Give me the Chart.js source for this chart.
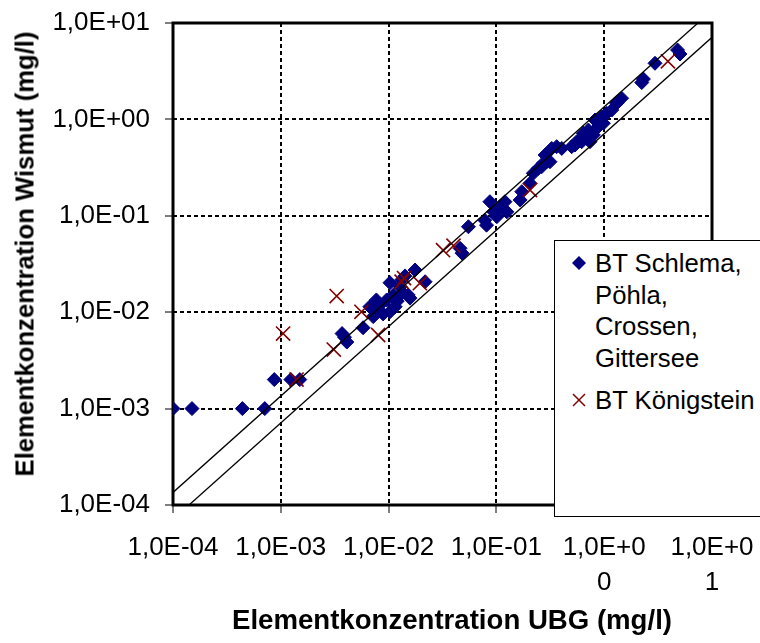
<!DOCTYPE html>
<html>
<head>
<meta charset="utf-8">
<script src="https://cdn.jsdelivr.net/npm/chart.js@4/dist/chart.umd.min.js"></script>
<style>
html,body{margin:0;padding:0;background:#fff;overflow:hidden;}
#wrap{position:relative;width:760px;height:643px;}
#legend{position:absolute;left:554px;top:240px;width:230px;height:277px;border:1px solid #000;background:#fff;box-sizing:border-box;font-family:'Liberation Sans',Arial,sans-serif;font-size:25.7px;line-height:31.7px;color:#000;}
#legend .txt{position:absolute;left:40px;white-space:nowrap;}
#legend svg{position:absolute;}
.atitle{position:absolute;white-space:nowrap;font-family:'Liberation Sans',Arial,sans-serif;font-weight:bold;color:#000;}
#ytitle{left:25px;top:254px;font-size:25.7px;line-height:31px;transform:translate(-50%,-50%) rotate(-90deg);}
#xtitle{left:452px;top:620px;font-size:27.6px;line-height:32px;transform:translate(-50%,-50%);}
</style>
</head>
<body>
<div id="wrap">
<canvas id="c" width="760" height="643"></canvas>
<div id="ytitle" class="atitle">Elementkonzentration Wismut (mg/l)</div>
<div id="xtitle" class="atitle">Elementkonzentration UBG (mg/l)</div>
<div id="legend">
  <svg style="left:17px;top:15px" width="14" height="14"><polygon points="7,0 14,7 7,14 0,7" fill="#000080"/></svg>
  <div class="txt" style="top:7px">BT Schlema,<br>Pöhla,<br>Crossen,<br>Gittersee</div>
  <svg style="left:17px;top:152px" width="14" height="14"><line x1="1" y1="1" x2="13" y2="13" stroke="#800000" stroke-width="1.5"/><line x1="13" y1="1" x2="1" y2="13" stroke="#800000" stroke-width="1.5"/></svg>
  <div class="txt" style="top:144px">BT Königstein</div>
</div>
</div>
<script>
// Axis ticks
const xTickValues = [1e-4, 1e-3, 1e-2, 1e-1, 1, 10];
const xTickLabels = ["1,0E-04", "1,0E-03", "1,0E-02", "1,0E-01", ["1,0E+0", "0"], ["1,0E+0", "1"]];
const yTickValues = [1e-4, 1e-3, 1e-2, 1e-1, 1, 10];
const yTickLabels = ["1,0E-04", "1,0E-03", "1,0E-02", "1,0E-01", "1,0E+00", "1,0E+01"];

// Series: BT Schlema, Pöhla, Crossen, Gittersee (UBG vs Wismut, mg/l)
const schlemaX = [1.0e-4, 1.5e-4, 4.4e-4, 7.1e-4, 8.7e-4, 1.24e-3, 1.5e-3,
  3.7e-3, 3.9e-3, 4.1e-3, 5.8e-3, 7.2e-3, 7.2e-3, 6.7e-3, 7.7e-3, 8.3e-3, 8.9e-3, 9.6e-3,
  1.03e-2, 1.11e-2, 1.15e-2, 1.03e-2, 1.28e-2, 1.32e-2, 1.42e-2, 1.76e-2, 2.18e-2, 1.52e-2,
  1.58e-2, 1.2e-2, 1.35e-2, 4.6e-2, 4.8e-2, 5.5e-2, 8.1e-2, 7.8e-2, 8.7e-2, 9.4e-2,
  0.108, 0.120, 0.125, 0.101, 0.166, 0.172, 0.205, 0.220, 0.245, 0.272, 0.314, 0.263,
  0.283, 0.293, 0.326, 0.362, 0.404, 0.499, 0.536, 0.556, 0.618, 0.738, 0.689, 0.64,
  0.713, 0.793, 0.881, 0.982, 0.822, 0.948, 1.055, 1.175, 1.306, 1.45, 2.23, 2.31,
  2.96, 4.79, 5.05];
const schlemaY = [1.0e-3, 1.0e-3, 1.0e-3, 1.0e-3, 2.0e-3, 2.0e-3, 2.0e-3,
  6.0e-3, 5.5e-3, 4.9e-3, 6.9e-3, 9.0e-3, 1.05e-2, 1.14e-2, 1.34e-2, 1.19e-2, 9.6e-3, 1.34e-2,
  1.01e-2, 1.51e-2, 1.14e-2, 2.02e-2, 1.84e-2, 2.16e-2, 2.38e-2, 2.74e-2, 2.07e-2, 1.51e-2,
  1.40e-2, 1.3e-2, 1.6e-2, 4.6e-2, 4.1e-2, 7.7e-2, 8.0e-2, 9.0e-2, 0.140, 0.110,
  0.124, 0.140, 0.110, 0.098, 0.146, 0.178, 0.217, 0.276, 0.311, 0.351, 0.364, 0.323,
  0.427, 0.364, 0.50, 0.521, 0.50, 0.521, 0.542, 0.587, 0.587, 0.587, 0.637, 0.718,
  0.776, 0.689, 0.84, 0.912, 0.986, 1.067, 1.156, 1.25, 1.47, 1.66, 2.41, 2.62,
  3.82, 5.25, 4.77];

// Series: BT Königstein
const koenigX = [1.40e-3, 1.05e-3, 3.3e-3, 3.1e-3, 5.6e-3, 8.0e-3, 1.32e-2, 1.39e-2, 1.95e-2, 3.2e-2, 4.0e-2, 0.205, 3.9];
const koenigY = [2.0e-3, 6.0e-3, 1.47e-2, 4.1e-3, 1.01e-2, 5.8e-3, 2.07e-2, 2.26e-2, 2.0e-2, 4.4e-2, 4.9e-2, 0.185, 4.0];

// Reference lines (end points)
const refLineX = [1e-4, 10];
const refUpperY = [1.35e-4, 13.5];
const refLowerY = [7.1e-5, 7.1];

const pts = (xs, ys) => xs.map((x, i) => ({x: x, y: ys[i]}));
const FONT = "'Liberation Sans', Arial, sans-serif";

const frame = {
  id: 'frame',
  beforeDatasetsDraw(chart) {
    const a = chart.chartArea, ctx = chart.ctx;
    ctx.save();
    ctx.strokeStyle = '#000';
    ctx.lineWidth = 3;
    ctx.strokeRect(a.left, a.top, a.right - a.left, a.bottom - a.top);
    ctx.restore();
  }
};

const gridCfg = {color: '#000', lineWidth: 2, tickLength: 8, tickColor: '#000', tickWidth: 1, borderDash: [4, 3]};

new Chart(document.getElementById('c'), {
  type: 'scatter',
  data: {
    datasets: [
      {label: 'upper', data: pts(refLineX, refUpperY), showLine: true, borderColor: '#000', borderWidth: 1.3, pointRadius: 0, fill: false, order: 0},
      {label: 'lower', data: pts(refLineX, refLowerY), showLine: true, borderColor: '#000', borderWidth: 1.3, pointRadius: 0, fill: false, order: 0},
      {label: 'BT Königstein', data: pts(koenigX, koenigY), pointStyle: 'crossRot', pointRadius: 10, borderColor: '#800000', backgroundColor: '#800000', pointBorderWidth: 1.6, order: 1},
      {label: 'BT Schlema, Pöhla, Crossen, Gittersee', data: pts(schlemaX, schlemaY), pointStyle: 'rectRot', pointRadius: 7, borderColor: '#000080', backgroundColor: '#000080', pointBorderWidth: 1, order: 2}
    ]
  },
  options: {
    responsive: false,
    animation: false,
    layout: {padding: {left: 0, right: 48, top: 23, bottom: 0}},
    plugins: {legend: {display: false}, tooltip: {enabled: false}},
    scales: {
      x: {
        type: 'logarithmic', min: 1e-4, max: 10,
        afterBuildTicks: s => { s.ticks = xTickValues.map(v => ({value: v})); },
        afterFit: s => { s.height = 138; s.paddingLeft = 0; s.paddingRight = 0; },
        ticks: {callback: (v, i) => xTickLabels[i], autoSkip: false, maxRotation: 0, minRotation: 0, padding: 17, color: '#000', font: {family: FONT, size: 26, lineHeight: 1.35}},
        grid: gridCfg,
        border: {display: false, dash: [4, 3]},
        title: {display: false}
      },
      y: {
        type: 'logarithmic', min: 1e-4, max: 10,
        afterBuildTicks: s => { s.ticks = yTickValues.map(v => ({value: v})); },
        afterFit: s => { s.width = 173; s.paddingTop = 0; s.paddingBottom = 0; },
        ticks: {callback: (v, i) => yTickLabels[i], autoSkip: false, padding: 15, color: '#000', font: {family: FONT, size: 26, lineHeight: 1.2}},
        grid: gridCfg,
        border: {display: false, dash: [4, 3]},
        title: {display: false}
      }
    }
  },
  plugins: [frame]
});
</script>
</body>
</html>
